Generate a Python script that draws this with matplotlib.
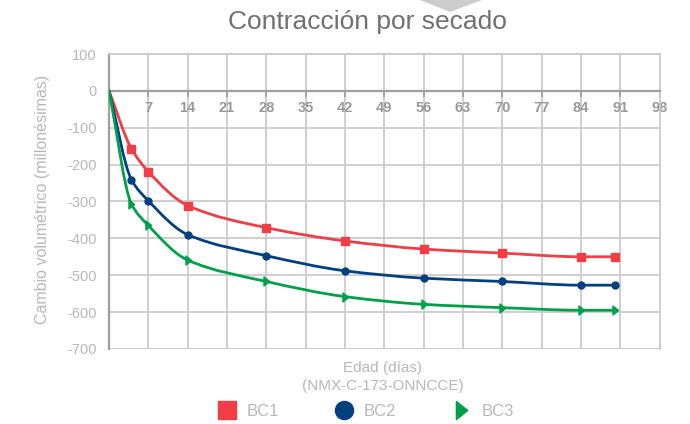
import numpy as np
import matplotlib
matplotlib.use('Agg')
import matplotlib.pyplot as plt
from matplotlib.path import Path
from matplotlib.patches import PathPatch, Polygon
from matplotlib.lines import Line2D

plt.rcParams['font.family'] = ['Liberation Sans', 'DejaVu Sans']
plt.rcParams['axes.unicode_minus'] = False

# Data
days = [0, 4, 7, 14, 28, 42, 56, 70, 84, 90]
bc1 = [0, -157, -219, -311, -371, -407, -429, -440, -450, -450]
bc2 = [0, -241, -298, -390, -447, -488, -508, -517, -527, -527]
bc3 = [0, -307, -365, -459, -517, -558, -579, -588, -595, -595]
series_names = ['BC1', 'BC2', 'BC3']
x_ticks = [7, 14, 21, 28, 35, 42, 49, 56, 63, 70, 77, 84, 91, 98]
y_ticks = [100, 0, -100, -200, -300, -400, -500, -600, -700]

colors = ['#ef3e45', '#043f80', '#00a04b']
# slim right-pointing triangle like the original
tri = Path([(-0.45, -0.8), (0.55, 0.0), (-0.45, 0.8), (-0.45, -0.8)],
           [Path.MOVETO, Path.LINETO, Path.LINETO, Path.CLOSEPOLY])
markers = ['s', 'o', tri]
msizes = [5.5, 5, 6.5]


def smooth_path(x, y):
    # monotone cubic (Fritsch-Carlson) drawn as bezier segments
    x = np.asarray(x, float)
    y = np.asarray(y, float)
    h = np.diff(x)
    d = np.diff(y) / h
    m = np.zeros_like(y)
    m[0] = d[0]
    m[-1] = d[-1]
    for k in range(1, len(x) - 1):
        if d[k - 1] * d[k] <= 0:
            m[k] = 0
        else:
            w1 = 2 * h[k] + h[k - 1]
            w2 = h[k] + 2 * h[k - 1]
            m[k] = (w1 + w2) / (w1 / d[k - 1] + w2 / d[k])
    verts = [(x[0], y[0])]
    codes = [Path.MOVETO]
    for k in range(len(x) - 1):
        verts += [(x[k] + h[k] / 3, y[k] + m[k] * h[k] / 3),
                  (x[k + 1] - h[k] / 3, y[k + 1] - m[k + 1] * h[k] / 3),
                  (x[k + 1], y[k + 1])]
        codes += [Path.CURVE4] * 3
    return Path(verts, codes)


fig = plt.figure(figsize=(6.9, 4.24), dpi=100)
ax = fig.add_axes([0.158, 0.177, 0.7978, 0.6956])

for vals, c, mk, ms in zip([bc1, bc2, bc3], colors, markers, msizes):
    ax.add_patch(PathPatch(smooth_path(days, vals), facecolor='none',
                           edgecolor=c, lw=2, capstyle='round', zorder=3))
    ax.plot(days[1:], vals[1:], linestyle='none', marker=mk, ms=ms,
            color=c, zorder=4)

ax.set_xlim(0, 98)
ax.set_ylim(-700, 100)
ax.set_xticks(x_ticks)
ax.set_yticks(y_ticks)
ax.set_yticklabels([str(v) for v in y_ticks])
ax.grid(True, color='#cccccc', lw=1.3, zorder=0)
ax.set_axisbelow(True)

ax.spines['bottom'].set_position(('data', 0))
ax.spines['bottom'].set_color('#a0a0a0')
ax.spines['bottom'].set_linewidth(1.6)
ax.spines['left'].set_color('#a0a0a0')
ax.spines['left'].set_linewidth(1.6)
for s in ['top', 'right']:
    ax.spines[s].set_color('#cccccc')
    ax.spines[s].set_linewidth(1.3)
ax.axhline(-700, color='#cccccc', lw=1.3, zorder=0)

ax.tick_params(axis='x', direction='out', length=4, width=1.3, color='#a0a0a0',
               pad=3, labelsize=10.5, labelcolor='#999999')
for lb in ax.get_xticklabels():
    lb.set_fontweight('bold')
ax.tick_params(axis='y', length=0, pad=9, labelsize=10.5, labelcolor='#b8b8b8')

fig.text(0.532, 1 - 22 / 424, 'Contracción por secado', ha='center', va='center',
         fontsize=19, color='#707070')
fig.patches.append(Polygon([(420 / 690, 1.0), (482 / 690, 1.0), (450 / 690, 1 - 12 / 424)],
                           closed=True, transform=fig.transFigure,
                           facecolor='#cccccc', edgecolor='none'))
fig.text(0.061, 0.53, 'Cambio volumétrico (millonésimas)', rotation=90,
         ha='center', va='center', fontsize=11.5, color='#b8b8b8')
fig.text(0.555, 1 - 368 / 424, 'Edad (días)', ha='center', va='center',
         fontsize=11, color='#b8b8b8')
fig.text(0.555, 1 - 386 / 424, '(NMX-C-173-ONNCCE)', ha='center', va='center',
         fontsize=11, color='#b8b8b8')

handles = [Line2D([], [], linestyle='none', marker=mk, color=c, ms=s)
           for mk, c, s in zip(markers, colors, [13, 13, 13])]
leg = fig.legend(handles, series_names, loc='center', ncol=3,
                 bbox_to_anchor=(366 / 690, 1 - 411 / 424), frameon=False,
                 fontsize=12, handlelength=1.0, handletextpad=0.7,
                 columnspacing=3.4, labelcolor='#b8b8b8')

fig.savefig('out.png', dpi=100)
